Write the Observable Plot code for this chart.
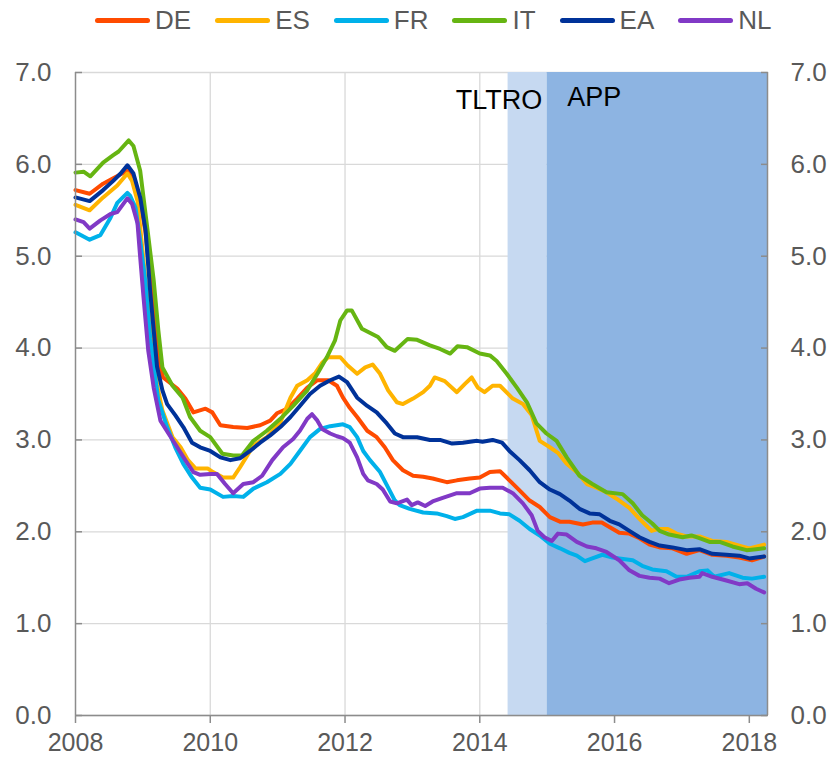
<!DOCTYPE html>
<html><head><meta charset="utf-8">
<script src="https://cdn.jsdelivr.net/npm/d3@7"></script>
<script src="https://cdn.jsdelivr.net/npm/@observablehq/plot@0.6"></script>
<style>
body{margin:0;background:#fff;font-family:"Liberation Sans",Arial,sans-serif;}
#legend{display:flex;align-items:center;height:40px;padding-left:95px;gap:24px;font-size:26px;color:#595959;}
.item{display:flex;align-items:center;}
.sw{width:55px;height:5px;border-radius:3px;margin-right:5px;}
#chart svg{display:block;}
</style></head><body>
<div id="legend"></div>
<div id="chart"></div>
<script>
// ---- data (decimal years, percent) ----
const seriesNames = ["DE", "ES", "FR", "IT", "EA", "NL"];
const seriesColors = ["#ff4b00", "#ffb400", "#00b1ea", "#66b512", "#003299", "#8139c6"];

const DE = [[2008.00,5.72],[2008.21,5.68],[2008.41,5.79],[2008.56,5.85],[2008.77,5.93],[2008.86,5.85],[2008.96,5.62],[2009.04,5.25],[2009.11,4.75],[2009.19,4.2],[2009.26,3.8],[2009.30,3.68],[2009.51,3.56],[2009.63,3.45],[2009.75,3.30],[2009.93,3.34],[2010.03,3.30],[2010.15,3.16],[2010.34,3.14],[2010.55,3.13],[2010.74,3.16],[2010.89,3.21],[2010.99,3.29],[2011.14,3.34],[2011.29,3.45],[2011.44,3.57],[2011.59,3.65],[2011.75,3.65],[2011.88,3.59],[2011.97,3.46],[2012.07,3.35],[2012.18,3.25],[2012.33,3.10],[2012.47,3.03],[2012.59,2.92],[2012.71,2.78],[2012.86,2.67],[2013.01,2.61],[2013.16,2.60],[2013.30,2.58],[2013.51,2.54],[2013.66,2.56],[2013.85,2.58],[2014.00,2.59],[2014.15,2.65],[2014.30,2.66],[2014.44,2.56],[2014.59,2.45],[2014.74,2.34],[2014.89,2.27],[2015.04,2.16],[2015.19,2.11],[2015.33,2.11],[2015.53,2.08],[2015.67,2.10],[2015.81,2.10],[2015.93,2.05],[2016.07,1.99],[2016.22,1.98],[2016.37,1.93],[2016.52,1.86],[2016.67,1.83],[2016.86,1.82],[2017.07,1.76],[2017.26,1.80],[2017.45,1.75],[2017.66,1.74],[2017.85,1.72],[2018.04,1.69],[2018.22,1.73]];

const ES = [[2008.00,5.56],[2008.21,5.50],[2008.41,5.64],[2008.62,5.77],[2008.77,5.90],[2008.84,5.82],[2008.92,5.60],[2008.99,5.10],[2009.07,4.50],[2009.14,4.00],[2009.21,3.60],[2009.29,3.32],[2009.44,3.03],[2009.56,2.92],[2009.67,2.78],[2009.78,2.69],[2009.96,2.69],[2010.04,2.65],[2010.19,2.59],[2010.34,2.59],[2010.44,2.70],[2010.55,2.83],[2010.64,2.94],[2010.84,3.03],[2011.04,3.19],[2011.19,3.46],[2011.29,3.59],[2011.44,3.65],[2011.56,3.73],[2011.66,3.84],[2011.75,3.90],[2011.93,3.90],[2012.04,3.81],[2012.18,3.72],[2012.30,3.79],[2012.41,3.82],[2012.52,3.72],[2012.64,3.54],[2012.77,3.41],[2012.86,3.39],[2013.01,3.45],[2013.16,3.52],[2013.26,3.59],[2013.33,3.68],[2013.48,3.64],[2013.66,3.52],[2013.78,3.61],[2013.88,3.68],[2013.97,3.57],[2014.07,3.52],[2014.19,3.59],[2014.30,3.59],[2014.49,3.45],[2014.64,3.39],[2014.77,3.27],[2014.89,2.99],[2015.04,2.92],[2015.16,2.86],[2015.29,2.74],[2015.44,2.65],[2015.59,2.52],[2015.73,2.48],[2015.88,2.43],[2016.03,2.36],[2016.22,2.26],[2016.37,2.14],[2016.55,2.01],[2016.64,2.03],[2016.79,2.03],[2016.92,1.98],[2017.07,1.95],[2017.26,1.95],[2017.45,1.90],[2017.66,1.89],[2017.85,1.85],[2018.00,1.82],[2018.22,1.86]];

const FR = [[2008.00,5.26],[2008.21,5.18],[2008.37,5.23],[2008.52,5.42],[2008.62,5.58],[2008.77,5.69],[2008.81,5.66],[2008.89,5.53],[2008.96,5.17],[2009.04,4.70],[2009.11,4.10],[2009.19,3.65],[2009.23,3.43],[2009.36,3.14],[2009.48,2.92],[2009.60,2.74],[2009.73,2.59],[2009.85,2.48],[2010.00,2.46],[2010.19,2.38],[2010.34,2.39],[2010.49,2.38],[2010.64,2.47],[2010.84,2.54],[2011.04,2.63],[2011.19,2.74],[2011.33,2.88],[2011.48,3.03],[2011.63,3.12],[2011.78,3.15],[2011.97,3.17],[2012.07,3.14],[2012.18,3.03],[2012.27,2.88],[2012.37,2.78],[2012.52,2.65],[2012.64,2.48],[2012.74,2.34],[2012.81,2.29],[2012.96,2.25],[2013.16,2.21],[2013.36,2.20],[2013.51,2.17],[2013.63,2.14],[2013.75,2.16],[2013.96,2.23],[2014.15,2.23],[2014.30,2.20],[2014.44,2.19],[2014.59,2.12],[2014.74,2.03],[2014.89,1.96],[2015.04,1.87],[2015.19,1.82],[2015.33,1.77],[2015.44,1.74],[2015.56,1.68],[2015.67,1.71],[2015.82,1.75],[2015.97,1.72],[2016.07,1.71],[2016.27,1.69],[2016.41,1.63],[2016.56,1.59],[2016.77,1.57],[2016.92,1.51],[2017.07,1.51],[2017.26,1.57],[2017.38,1.58],[2017.48,1.51],[2017.70,1.55],[2017.90,1.50],[2018.04,1.49],[2018.22,1.51]];

const IT = [[2008.00,5.91],[2008.12,5.92],[2008.22,5.87],[2008.41,6.02],[2008.56,6.10],[2008.64,6.14],[2008.79,6.26],[2008.86,6.20],[2008.96,5.93],[2009.07,5.28],[2009.16,4.74],[2009.23,4.19],[2009.29,3.79],[2009.44,3.59],[2009.59,3.46],[2009.70,3.25],[2009.85,3.10],[2010.00,3.03],[2010.18,2.85],[2010.34,2.83],[2010.47,2.83],[2010.64,2.99],[2010.84,3.10],[2011.04,3.23],[2011.23,3.37],[2011.44,3.54],[2011.59,3.72],[2011.73,3.90],[2011.85,4.08],[2011.93,4.30],[2012.03,4.41],[2012.10,4.41],[2012.25,4.21],[2012.49,4.12],[2012.62,4.01],[2012.74,3.97],[2012.93,4.10],[2013.07,4.09],[2013.26,4.03],[2013.41,3.99],[2013.56,3.94],[2013.67,4.02],[2013.81,4.01],[2014.00,3.94],[2014.15,3.92],[2014.25,3.86],[2014.40,3.72],[2014.55,3.57],[2014.70,3.41],[2014.84,3.18],[2014.99,3.07],[2015.14,2.99],[2015.29,2.81],[2015.48,2.61],[2015.67,2.52],[2015.88,2.43],[2016.12,2.41],[2016.27,2.31],[2016.41,2.18],[2016.56,2.09],[2016.67,2.01],[2016.81,1.97],[2017.01,1.94],[2017.14,1.96],[2017.26,1.93],[2017.41,1.89],[2017.56,1.89],[2017.75,1.84],[2017.96,1.80],[2018.10,1.81],[2018.22,1.82]];

const EA = [[2008.00,5.64],[2008.21,5.60],[2008.41,5.72],[2008.56,5.82],[2008.67,5.90],[2008.77,5.99],[2008.86,5.90],[2008.96,5.64],[2009.04,5.28],[2009.11,4.60],[2009.16,4.20],[2009.21,3.80],[2009.29,3.54],[2009.36,3.39],[2009.48,3.27],[2009.60,3.14],[2009.73,2.97],[2009.85,2.92],[2010.00,2.88],[2010.15,2.81],[2010.30,2.78],[2010.44,2.80],[2010.59,2.88],[2010.74,2.97],[2010.89,3.05],[2011.04,3.14],[2011.19,3.25],[2011.33,3.37],[2011.48,3.50],[2011.63,3.59],[2011.78,3.65],[2011.91,3.69],[2012.03,3.63],[2012.18,3.46],[2012.33,3.37],[2012.47,3.30],[2012.62,3.18],[2012.74,3.07],[2012.86,3.03],[2013.07,3.03],[2013.26,3.00],[2013.41,3.00],[2013.59,2.96],[2013.75,2.97],[2013.96,2.99],[2014.04,2.98],[2014.19,3.00],[2014.33,2.97],[2014.44,2.88],[2014.59,2.78],[2014.74,2.67],[2014.89,2.54],[2015.04,2.46],[2015.19,2.41],[2015.33,2.34],[2015.48,2.25],[2015.63,2.20],[2015.78,2.19],[2015.93,2.12],[2016.07,2.08],[2016.22,2.01],[2016.37,1.94],[2016.52,1.89],[2016.67,1.85],[2016.86,1.83],[2017.07,1.80],[2017.26,1.81],[2017.45,1.76],[2017.66,1.75],[2017.85,1.74],[2018.00,1.71],[2018.22,1.73]];

const NL = [[2008.00,5.40],[2008.12,5.37],[2008.21,5.30],[2008.37,5.39],[2008.52,5.46],[2008.62,5.48],[2008.77,5.63],[2008.84,5.57],[2008.92,5.36],[2008.96,4.99],[2009.01,4.55],[2009.08,3.97],[2009.16,3.57],[2009.26,3.21],[2009.38,3.07],[2009.51,2.92],[2009.63,2.78],[2009.75,2.65],[2009.85,2.62],[2010.00,2.63],[2010.10,2.63],[2010.22,2.52],[2010.34,2.42],[2010.49,2.52],[2010.64,2.54],[2010.77,2.61],[2010.92,2.78],[2011.08,2.92],[2011.23,3.01],[2011.33,3.10],[2011.44,3.23],[2011.51,3.28],[2011.59,3.21],[2011.66,3.12],[2011.78,3.07],[2011.88,3.04],[2011.97,3.02],[2012.07,2.97],[2012.18,2.81],[2012.27,2.63],[2012.34,2.56],[2012.47,2.52],[2012.56,2.46],[2012.67,2.33],[2012.77,2.31],[2012.92,2.35],[2012.99,2.29],[2013.08,2.32],[2013.19,2.28],[2013.30,2.33],[2013.45,2.37],[2013.66,2.42],[2013.85,2.42],[2014.00,2.47],[2014.15,2.48],[2014.34,2.48],[2014.49,2.42],[2014.64,2.31],[2014.77,2.18],[2014.86,2.01],[2014.96,1.94],[2015.07,1.90],[2015.16,1.98],[2015.29,1.97],[2015.44,1.89],[2015.59,1.84],[2015.73,1.82],[2015.88,1.78],[2016.07,1.69],[2016.22,1.58],[2016.37,1.52],[2016.52,1.50],[2016.67,1.49],[2016.81,1.44],[2016.96,1.48],[2017.11,1.50],[2017.26,1.51],[2017.30,1.55],[2017.45,1.51],[2017.66,1.47],[2017.85,1.43],[2017.97,1.44],[2018.10,1.38],[2018.22,1.34]];

const seriesData = [DE, ES, FR, IT, EA, NL];

const phaseLabels = ["TLTRO", "APP"];
const phaseStarts = [2014.42, 2015.0];
const phaseEnds = [2015.0, 2018.27];
const phaseColors = ["#c6d9f1", "#8db4e2"];

const xDomain = [2008, 2018.27];
const yDomain = [0, 7];
const xTicks = [2008, 2010, 2012, 2014, 2016, 2018];
const yTicks = [0, 1, 2, 3, 4, 5, 6, 7];

// ---- build tables ----
const rows = seriesNames.flatMap((name, i) => seriesData[i].map(([t, v]) => ({country: name, t, v})));
const phases = phaseLabels.map((label, i) => ({label, start: phaseStarts[i], end: phaseEnds[i], color: phaseColors[i]}));

// ---- legend ----
const legend = document.getElementById("legend");
seriesNames.forEach((name, i) => {
  const item = document.createElement("div");
  item.className = "item";
  const sw = document.createElement("span");
  sw.className = "sw";
  sw.style.background = seriesColors[i];
  const lab = document.createElement("span");
  lab.textContent = name;
  item.append(sw, lab);
  legend.append(item);
});

const axisColor = "#8c8c8c";
const gridColor = "#d9d9d9";
const fmt = d3.format(".1f");

const chart = Plot.plot({
  width: 831,
  height: 718,
  marginLeft: 75,
  marginRight: 64,
  marginTop: 32,
  marginBottom: 43,
  style: {fontFamily: '"Liberation Sans", Arial, sans-serif', fontSize: "26px", color: "#595959", background: "white", overflow: "visible"},
  x: {domain: xDomain},
  y: {domain: yDomain},
  color: {domain: seriesNames, range: seriesColors},
  marks: [
    Plot.gridY(yTicks, {stroke: gridColor, strokeOpacity: 1, strokeWidth: 1.3}),
    Plot.gridX(xTicks.slice(1), {stroke: gridColor, strokeOpacity: 1, strokeWidth: 1.3}),
    Plot.rect(phases, {x1: "start", x2: "end", y1: yDomain[0], y2: yDomain[1], fill: "color"}),
    Plot.line(rows, {x: "t", y: "v", z: "country", stroke: "country", strokeWidth: 4, strokeLinejoin: "round", strokeLinecap: "round"}),
    Plot.ruleX(xDomain, {stroke: axisColor, strokeWidth: 1.5}),
    Plot.ruleY([yDomain[0]], {stroke: axisColor, strokeWidth: 1.5}),
    Plot.axisY(yTicks, {anchor: "left", tickSize: -7, tickPadding: 31, tickFormat: fmt, stroke: axisColor, strokeWidth: 1.5, fill: "#595959", label: null}),
    Plot.axisY(yTicks, {anchor: "right", tickSize: -7, tickPadding: 30, tickFormat: fmt, stroke: axisColor, strokeWidth: 1.5, fill: "#595959", label: null}),
    Plot.axisX(xTicks, {anchor: "bottom", tickSize: 8, tickPadding: 10, tickFormat: d3.format("d"), stroke: axisColor, strokeWidth: 1.5, fill: "#595959", fontSize: 25, label: null}),
    Plot.text([phases[0]], {x: "end", text: "label", frameAnchor: "top", textAnchor: "end", lineAnchor: "middle", dx: -5, dy: 28, fill: "#000", fontSize: 27}),
    Plot.text([phases[1]], {x: "start", text: "label", frameAnchor: "top", textAnchor: "start", lineAnchor: "middle", dx: 20, dy: 25, fill: "#000", fontSize: 27})
  ]
});
document.getElementById("chart").append(chart);
</script>
</body></html>
